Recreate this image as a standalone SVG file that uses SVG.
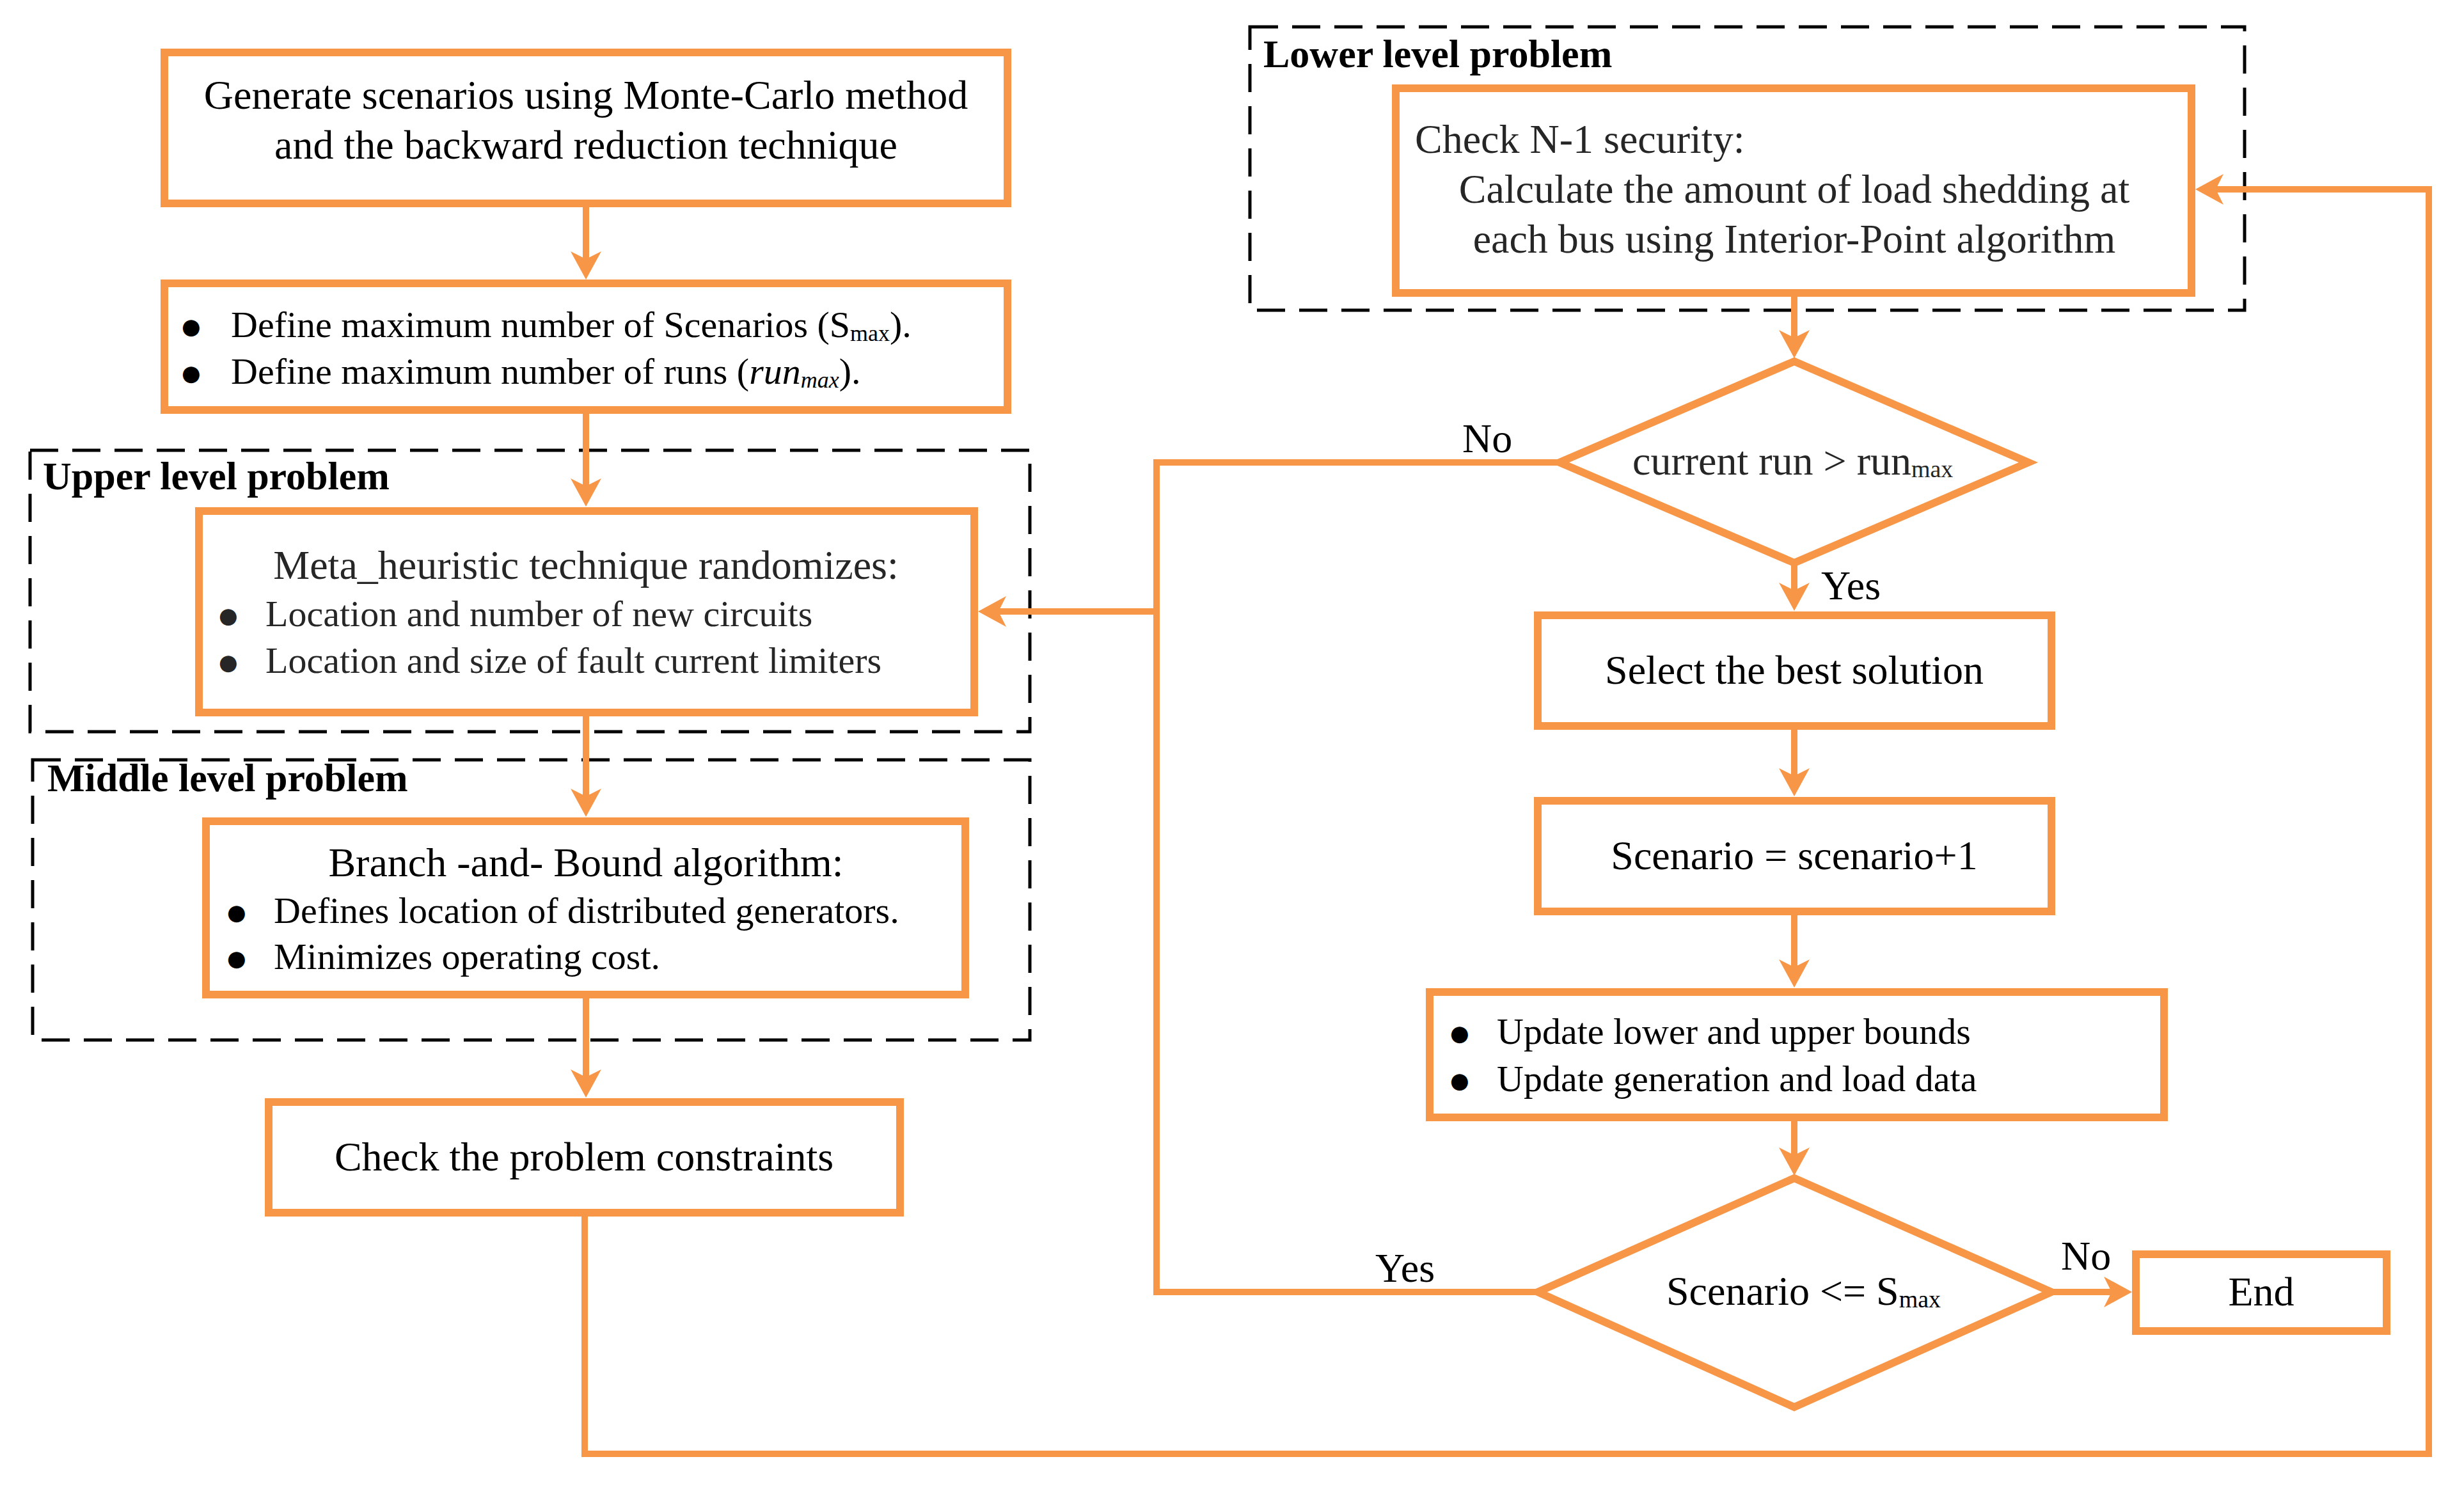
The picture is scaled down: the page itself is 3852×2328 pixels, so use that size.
<svg xmlns="http://www.w3.org/2000/svg" width="3852" height="2328" viewBox="0 0 3852 2328">
<style>
.box{fill:#fff;stroke:#F79646;stroke-width:12}
.dia{fill:#fff;stroke:#F79646;stroke-width:12;stroke-linejoin:miter}
.dash{fill:none;stroke:#000;stroke-width:5;stroke-dasharray:44,22}
.con{fill:none;stroke:#F79646;stroke-width:10}
.t{font-family:"Liberation Serif","Times New Roman",serif;font-size:64px;fill:#000}
.b{font-family:"Liberation Serif","Times New Roman",serif;font-size:58px;fill:#000}
.bu{font-family:"DejaVu Sans","Liberation Sans",sans-serif;font-size:34px;fill:#000}
.g{fill:#262626}
.lbl{font-family:"Liberation Serif","Times New Roman",serif;font-size:62px;font-weight:bold;fill:#000}
.c{text-anchor:middle}
</style>
<defs>
<marker id="ah" markerUnits="userSpaceOnUse" viewBox="0 0 44 48" markerWidth="44" markerHeight="48" refX="24" refY="24" orient="auto">
<path d="M44,24 L0,0 L12,24 L0,48 Z" fill="#F79646"/>
</marker>
</defs>
<rect width="3852" height="2328" fill="#fff"/>

<g id="upper-level">
<rect class="dash" x="47" y="704" width="1563" height="440"/>
<text class="lbl" x="67" y="765">Upper level problem</text>
</g>
<g id="middle-level">
<rect class="dash" x="51" y="1188" width="1559" height="438"/>
<text class="lbl" x="74" y="1237">Middle level problem</text>
</g>
<g id="lower-level">
<rect class="dash" x="1954" y="42" width="1555" height="443"/>
<text class="lbl" x="1975" y="105">Lower level problem</text>
</g>

<g id="connectors">
<path class="con" d="M916,318 V417" marker-end="url(#ah)"/>
<path class="con" d="M916,641 V772" marker-end="url(#ah)"/>
<path class="con" d="M916,1114 V1257" marker-end="url(#ah)"/>
<path class="con" d="M916,1555 V1696" marker-end="url(#ah)"/>
<path class="con" d="M914,1896 V2273 H3797 V296 H3452" marker-end="url(#ah)"/>
<path class="con" d="M2805,458 V540" marker-end="url(#ah)"/>
<path class="con" d="M2438,723 H1808 V2020 H2404"/>
<path class="con" d="M1808,956 H1549" marker-end="url(#ah)"/>
<path class="con" d="M2805,880 V935" marker-end="url(#ah)"/>
<path class="con" d="M2805,1135 V1225" marker-end="url(#ah)"/>
<path class="con" d="M2805,1425 V1524" marker-end="url(#ah)"/>
<path class="con" d="M2805,1747 V1818" marker-end="url(#ah)"/>
<path class="con" d="M3207,2020 H3313" marker-end="url(#ah)"/>
<text class="t" x="2286" y="707">No</text>
<text class="t" x="2847" y="937">Yes</text>
<text class="t" x="2150" y="2004">Yes</text>
<text class="t" x="3222" y="1985">No</text>
</g>

<g id="generate">
<rect class="box" x="257" y="82" width="1318" height="236"/>
<text class="t c" x="916" y="170">Generate scenarios using Monte-Carlo method</text>
<text class="t c" x="916" y="248">and the backward reduction technique</text>
</g>

<g id="define">
<rect class="box" x="257" y="443" width="1318" height="198"/>
<text class="bu" x="284" y="522">●</text>
<text class="b" x="361" y="527">Define maximum number of Scenarios (S<tspan font-size="36" dy="6">max</tspan><tspan dy="-6">).</tspan></text>
<text class="bu" x="284" y="595">●</text>
<text class="b" x="361" y="600">Define maximum number of runs (<tspan font-style="italic">run</tspan><tspan font-style="italic" font-size="36" dy="6">max</tspan><tspan dy="-6">).</tspan></text>
</g>

<g id="meta">
<rect class="box" x="311" y="799" width="1212" height="315"/>
<text class="t c g" x="916" y="905">Meta_heuristic technique randomizes:</text>
<text class="bu g" x="342" y="974">●</text>
<text class="b g" x="415" y="979">Location and number of new circuits</text>
<text class="bu g" x="342" y="1047">●</text>
<text class="b g" x="415" y="1052">Location and size of fault current limiters</text>
</g>

<g id="bnb">
<rect class="box" x="322" y="1284" width="1187" height="271"/>
<text class="t c" x="916" y="1370">Branch -and- Bound algorithm:</text>
<text class="bu" x="355" y="1438">●</text>
<text class="b" x="428" y="1443">Defines location of distributed generators.</text>
<text class="bu" x="355" y="1510">●</text>
<text class="b" x="428" y="1515">Minimizes operating cost.</text>
</g>

<g id="check">
<rect class="box" x="420" y="1723" width="987" height="173"/>
<text class="t c" x="913" y="1830">Check the problem constraints</text>
</g>

<g id="n1">
<rect class="box" x="2182" y="138" width="1244" height="320"/>
<text class="t g" x="2212" y="239">Check N-1 security:</text>
<text class="t c g" x="2805" y="317">Calculate the amount of load shedding at</text>
<text class="t c g" x="2805" y="395">each bus using Interior-Point algorithm</text>
</g>

<g id="decision-run">
<polygon class="dia" points="2805,565 3171,723 2805,880 2438,723"/>
<text class="t g" x="2552" y="742">current run &gt; run<tspan font-size="38" dy="4">max</tspan></text>
</g>

<g id="select">
<rect class="box" x="2404" y="962" width="803" height="173"/>
<text class="t c" x="2805" y="1069">Select the best solution</text>
</g>

<g id="scenario">
<rect class="box" x="2404" y="1252" width="803" height="173"/>
<text class="t c" x="2805" y="1359">Scenario = scenario+1</text>
</g>

<g id="update">
<rect class="box" x="2235" y="1551" width="1148" height="196"/>
<text class="bu" x="2267" y="1627">●</text>
<text class="b" x="2340" y="1632">Update lower and upper bounds</text>
<text class="bu" x="2267" y="1701">●</text>
<text class="b" x="2340" y="1706">Update generation and load data</text>
</g>

<g id="decision-scenario">
<polygon class="dia" points="2805,1842 3207,2020 2805,2200 2404,2020"/>
<text class="t" x="2605" y="2040">Scenario &lt;= S<tspan font-size="38" dy="4">max</tspan></text>
</g>

<g id="end">
<rect class="box" x="3339" y="1961" width="392" height="120"/>
<text class="t c" x="3535" y="2041">End</text>
</g>
</svg>
